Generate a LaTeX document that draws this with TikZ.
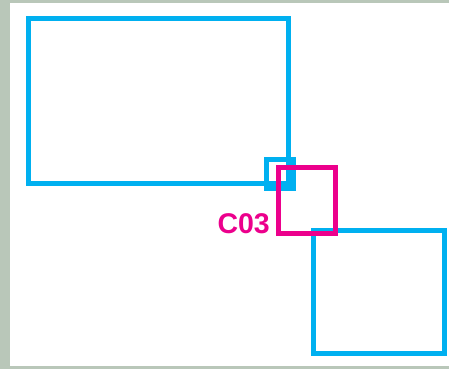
\documentclass[tikz,border=0pt]{standalone}
\usepackage{fontspec}
\newfontfamily\labelfont{Liberation Sans}
\usetikzlibrary{positioning}
\definecolor{frameblue}{HTML}{00B0F0}
\definecolor{markmagenta}{HTML}{EC008C}
\definecolor{paperbg}{HTML}{B9C7B9}
\begin{document}
\begin{tikzpicture}[x=1pt, y=-1pt,
  zone/.style={draw=frameblue, line width=5pt, inner sep=0pt, outer sep=0pt},
  cellbox/.style={draw=markmagenta, line width=5pt, inner sep=0pt, outer sep=0pt},
  tagtext/.style={text=markmagenta, font=\labelfont\bfseries\fontsize{28.5}{30}\selectfont, inner sep=0pt}]
% sheet and surrounding backdrop
\fill[paperbg] (0,0) rectangle (449,369);
\fill[white] (10,3) rectangle (449,366);
% blue zones
\node[zone, minimum width=260pt, minimum height=165pt] (upper) at (158.5,101) {};
\node[zone, minimum width=27pt, minimum height=29pt] (corner) at (280,174) {};
\node[zone, minimum width=131pt, minimum height=122.5pt] (lower) at (379,291.75) {};
% marked cell with its code
\node[cellbox, minimum width=57pt, minimum height=66pt] (c03) at (307,200.5) {};
\node[tagtext, anchor=base east] (c03label) at (270,233.5) {C03};
\end{tikzpicture}
\end{document}
